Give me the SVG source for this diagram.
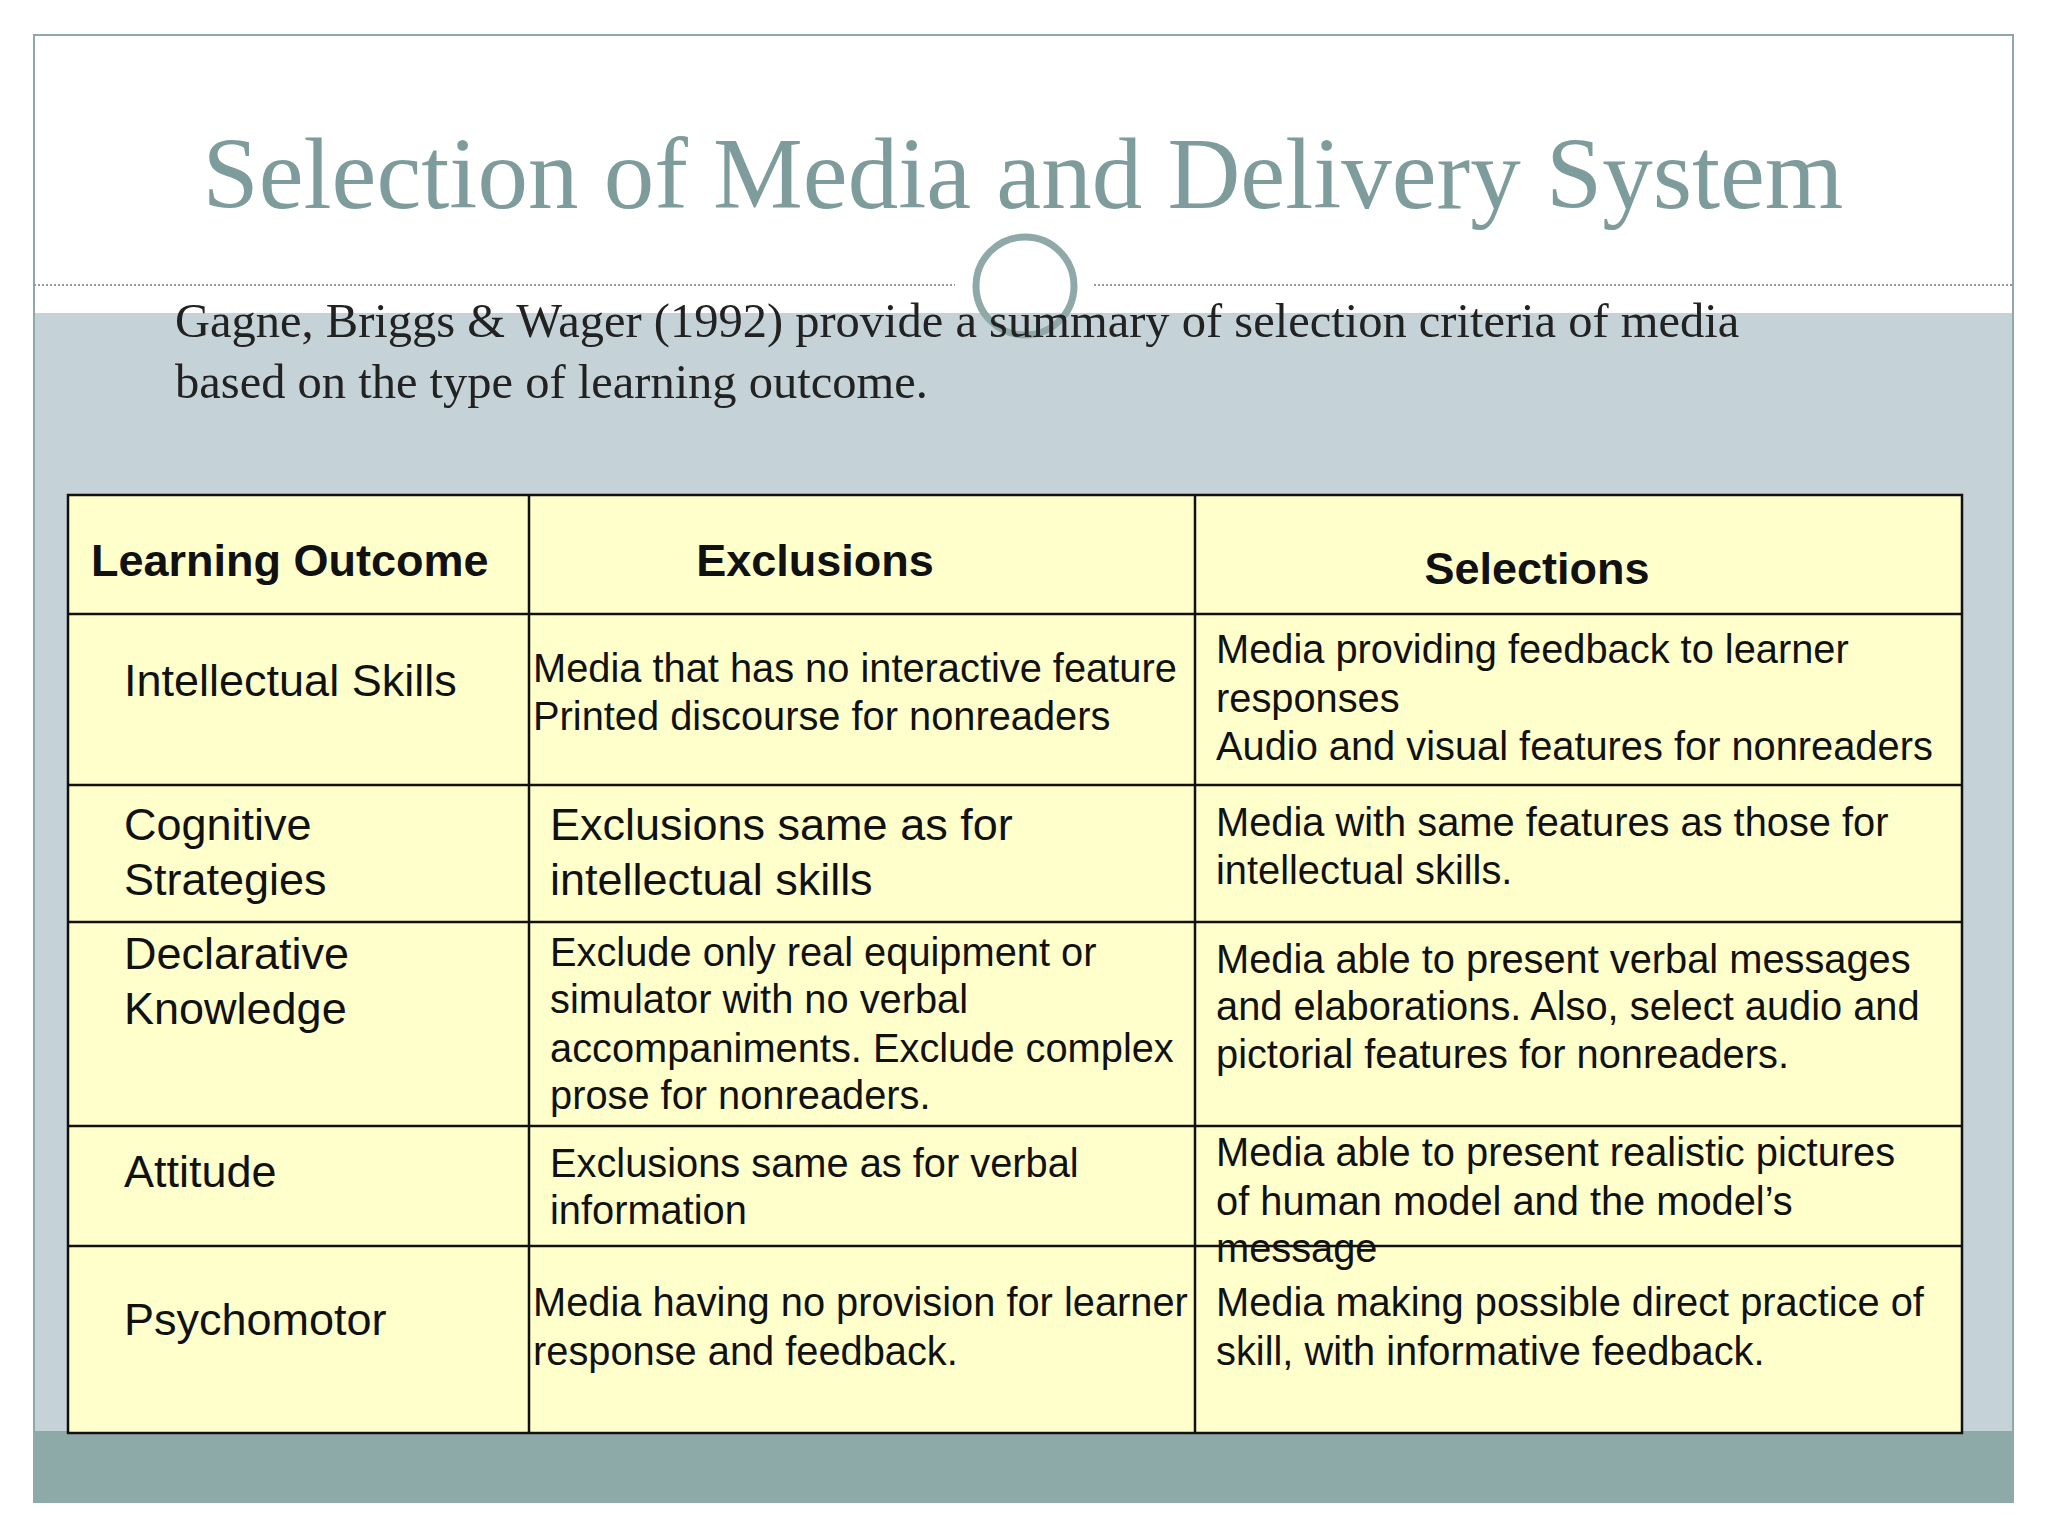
<svg xmlns="http://www.w3.org/2000/svg" width="2048" height="1536" viewBox="0 0 2048 1536">
<style>
.t{font-family:"Liberation Sans",Arial,sans-serif;fill:#111}
.h{font-size:45px;font-weight:bold}
.l{font-size:45px}
.s{font-size:39.8px}
.c{fill:#ffffcc;stroke:#111;stroke-width:2.5}
</style>
<rect width="2048" height="1536" fill="#fff"/>
<rect x="34" y="313" width="1979" height="1118" fill="#c5d3d8"/>
<rect x="34" y="1431" width="1979" height="71" fill="#8eaaa8"/>
<rect x="34" y="35" width="1979" height="1467" fill="none" stroke="#8eaaa8" stroke-width="2"/>
<line x1="34" y1="285" x2="955" y2="285" stroke="#999" stroke-width="2" stroke-dasharray="2,2"/>
<line x1="1094" y1="285" x2="2013" y2="285" stroke="#999" stroke-width="2" stroke-dasharray="2,2"/>
<circle cx="1025" cy="286" r="49" fill="none" stroke="#8fa8a8" stroke-width="7"/>
<text x="1023" y="208" text-anchor="middle" font-family="'Liberation Serif','DejaVu Serif',serif" font-size="101" fill="#7f9c9c">Selection of Media and Delivery System</text>
<g font-family="'Liberation Serif','DejaVu Serif',serif" font-size="48.5" fill="#222">
<text x="175" y="337">Gagne, Briggs &amp; Wager (1992) provide a summary of selection criteria of media</text>
<text x="175" y="398">based on the type of learning outcome.</text>
</g>
<g id="table">
<rect class="c" x="68" y="495" width="1894" height="938"/>
<g stroke="#111" stroke-width="2.5">
<line x1="529" y1="495" x2="529" y2="1433"/><line x1="1195" y1="495" x2="1195" y2="1433"/>
<line x1="68" y1="614" x2="1962" y2="614"/><line x1="68" y1="785" x2="1962" y2="785"/>
<line x1="68" y1="922" x2="1962" y2="922"/><line x1="68" y1="1126" x2="1962" y2="1126"/>
<line x1="68" y1="1246" x2="1962" y2="1246"/>
</g>
</g>
<g id="header" class="t h">
<text x="91" y="576">Learning Outcome</text>
<text x="815" y="576" text-anchor="middle">Exclusions</text>
<text x="1537" y="584" text-anchor="middle">Selections</text>
</g>
<g id="row1" class="t">
<text class="l" x="124" y="696">Intellectual Skills</text>
<text class="s" x="533" y="682">Media that has no interactive feature</text>
<text class="s" x="533" y="730">Printed discourse for nonreaders</text>
<text class="s" x="1216" y="663">Media providing feedback to learner</text>
<text class="s" x="1216" y="712">responses</text>
<text class="s" x="1216" y="760">Audio and visual features for nonreaders</text>
</g>
<g id="row2" class="t">
<text class="l" x="124" y="840">Cognitive</text>
<text class="l" x="124" y="895">Strategies</text>
<text class="l" x="550" y="840">Exclusions same as for</text>
<text class="l" x="550" y="895">intellectual skills</text>
<text class="s" x="1216" y="836">Media with same features as those for</text>
<text class="s" x="1216" y="884">intellectual skills.</text>
</g>
<g id="row3" class="t">
<text class="l" x="124" y="969">Declarative</text>
<text class="l" x="124" y="1024">Knowledge</text>
<text class="s" x="550" y="966">Exclude only real equipment or</text>
<text class="s" x="550" y="1013">simulator with no verbal</text>
<text class="s" x="550" y="1062">accompaniments. Exclude complex</text>
<text class="s" x="550" y="1109">prose for nonreaders.</text>
<text class="s" x="1216" y="973">Media able to present verbal messages</text>
<text class="s" x="1216" y="1020">and elaborations. Also, select audio and</text>
<text class="s" x="1216" y="1068">pictorial features for nonreaders.</text>
</g>
<g id="row4" class="t">
<text class="l" x="124" y="1187">Attitude</text>
<text class="s" x="550" y="1177">Exclusions same as for verbal</text>
<text class="s" x="550" y="1224">information</text>
<text class="s" x="1216" y="1166">Media able to present realistic pictures</text>
<text class="s" x="1216" y="1215">of human model and the model’s</text>
<text class="s" x="1216" y="1262">message</text>
</g>
<g id="row5" class="t">
<text class="l" x="124" y="1335">Psychomotor</text>
<text class="s" x="533" y="1316">Media having no provision for learner</text>
<text class="s" x="533" y="1365">response and feedback.</text>
<text class="s" x="1216" y="1316">Media making possible direct practice of</text>
<text class="s" x="1216" y="1365">skill, with informative feedback.</text>
</g>
</svg>
